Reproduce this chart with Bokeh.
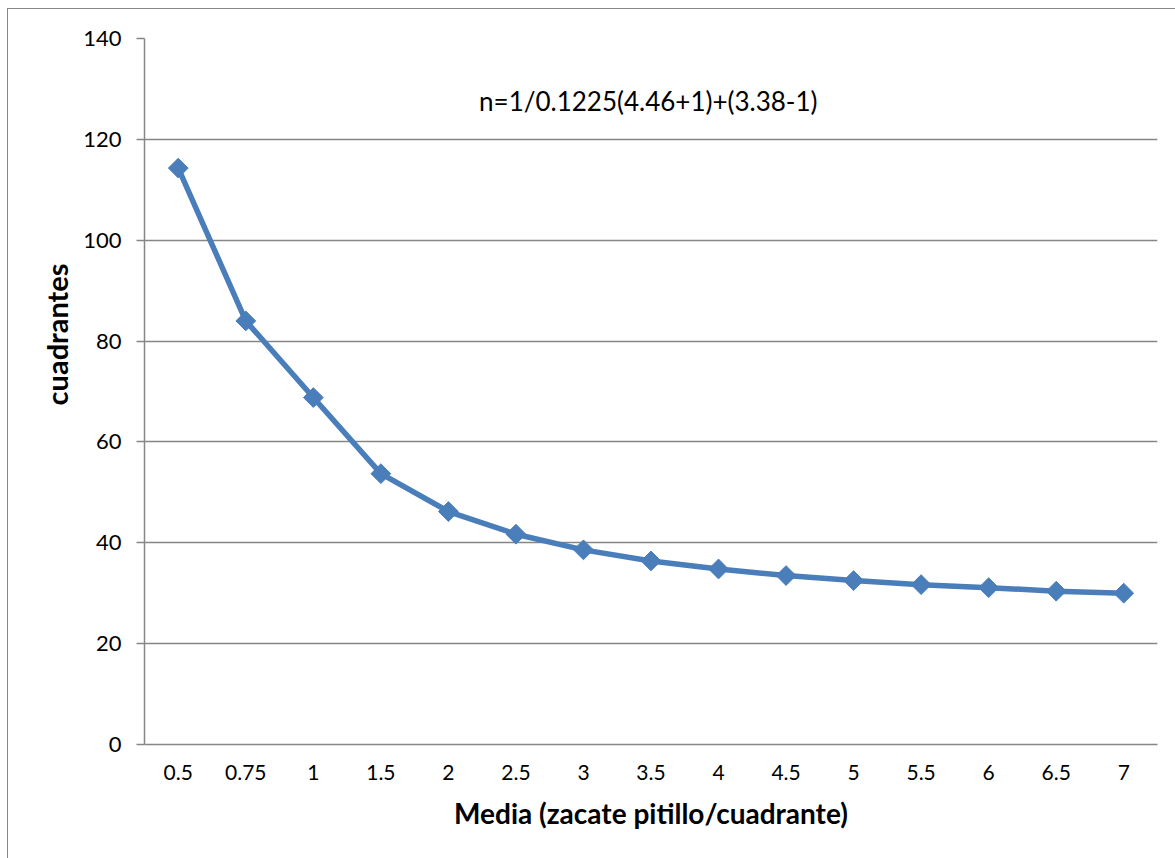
import math
from bokeh.plotting import figure
from bokeh.models import FactorRange, Range1d, Label, Title
from bokeh.embed import file_html
from bokeh.resources import INLINE

# Mean density per quadrat and required number of quadrats
media = ["0.5", "0.75", "1", "1.5", "2", "2.5", "3", "3.5", "4", "4.5", "5", "5.5", "6", "6.5", "7"]
cuadrantes = [114.3, 84.0, 68.8, 53.7, 46.2, 41.7, 38.6, 36.4, 34.8, 33.5, 32.5, 31.7, 31.1, 30.4, 30.0]
y_ticks = [0, 20, 40, 60, 80, 100, 120, 140]
formula = "n=1/0.1225(4.46+1)+(3.38-1)"

FONT = "Lato"
GRAY = "#868686"
BLUE = "#4A7EBB"

p = figure(
    width=1168, height=850,
    x_range=FactorRange(factors=media, range_padding=0),
    y_range=Range1d(0, 140),
    output_backend="svg", toolbar_location=None,
    min_border_left=136, min_border_right=19, min_border_top=29, min_border_bottom=115,
)
p.margin = (8, 0, 0, 7)
p.styles = {"border-left": "1px solid #868686", "border-top": "1px solid #868686"}

p.outline_line_color = None
p.background_fill_color = "white"
p.border_fill_color = "white"

# grid
p.xgrid.grid_line_color = None
p.ygrid.grid_line_color = GRAY
p.ygrid.grid_line_width = 1.5
p.ygrid.ticker = y_ticks

# y axis
p.yaxis.ticker = y_ticks
p.yaxis.axis_line_color = GRAY
p.yaxis.axis_line_width = 1.5
p.yaxis.major_tick_line_color = GRAY
p.yaxis.major_tick_line_width = 1.5
p.yaxis.major_tick_out = 8
p.yaxis.major_tick_in = 0
p.yaxis.minor_tick_line_color = None
p.yaxis.major_label_text_font = FONT
p.yaxis.major_label_text_font_size = "22px"
p.yaxis.major_label_text_color = "black"
p.yaxis.major_label_standoff = 15

# x axis
p.xaxis.axis_line_color = GRAY
p.xaxis.axis_line_width = 1.5
p.xaxis.major_tick_line_color = None
p.xaxis.major_tick_out = 0
p.xaxis.major_tick_in = 0
p.xaxis.major_label_text_font = FONT
p.xaxis.major_label_text_font_size = "21px"
p.xaxis.major_label_text_color = "black"
p.xaxis.major_label_standoff = 20
p.xaxis.axis_label = "Media (zacate pitillo/cuadrante)"
p.xaxis.axis_label_text_font = FONT
p.xaxis.axis_label_text_font_size = "28px"
p.xaxis.axis_label_text_font_style = "bold"
p.xaxis.axis_label_text_color = "black"
p.xaxis.axis_label_standoff = 13

# series
p.line(media, cuadrantes, line_color=BLUE, line_width=5.5, line_join="round")
p.scatter(media, cuadrantes, marker="square", angle=math.pi / 4, size=14,
          fill_color=BLUE, line_color=BLUE)

# formula annotation
p.add_layout(Label(x=7.46, y=127.6, text=formula, text_font=FONT,
                   text_font_size="26px", text_color="black",
                   text_align="center", text_baseline="middle"))

# y axis title, placed in its own panel left of the axis
p.add_layout(Title(text="cuadrantes", align="right", offset=225, standoff=14,
                   text_font=FONT, text_font_size="29px", text_font_style="bold",
                   text_color="black"), "left")

open("out.html", "w").write(file_html(p, INLINE))
